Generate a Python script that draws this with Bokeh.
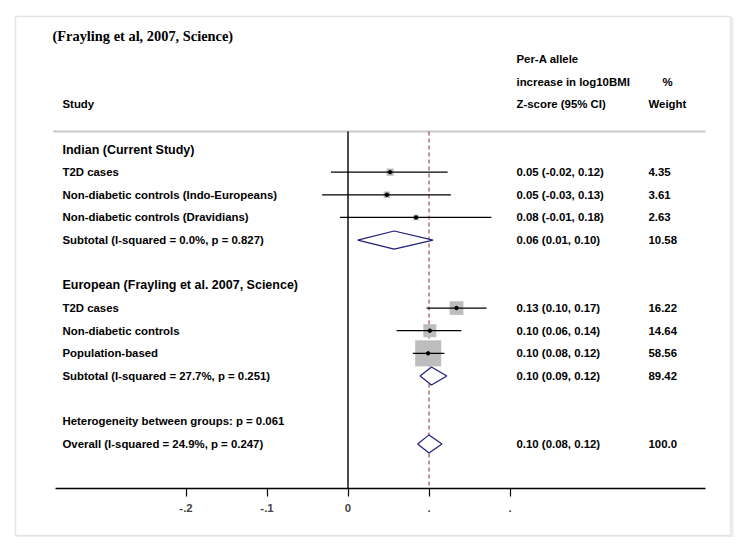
from bokeh.plotting import figure
from bokeh.models import Range1d, LinearAxis, FixedTicker
from bokeh.core.properties import value
from bokeh.embed import file_html
from bokeh.resources import INLINE
import numpy as np

# ---------------- data ----------------
title_text = "(Frayling et al, 2007, Science)"
group_labels = ["Indian (Current Study)", "European (Frayling et al. 2007, Science)"]

study_labels = ["T2D cases", "Non-diabetic controls (Indo-Europeans)",
                "Non-diabetic controls (Dravidians)",
                "T2D cases", "Non-diabetic controls", "Population-based"]
study_group = [0, 0, 0, 1, 1, 1]
est = [0.052, 0.048, 0.084, 0.134, 0.101, 0.099]
lo = [-0.021, -0.032, -0.010, 0.097, 0.060, 0.080]
hi = [0.123, 0.127, 0.177, 0.171, 0.140, 0.119]
est_text = ["0.05 (-0.02, 0.12)", "0.05 (-0.03, 0.13)", "0.08 (-0.01, 0.18)",
            "0.13 (0.10, 0.17)", "0.10 (0.06, 0.14)", "0.10 (0.08, 0.12)"]
weights = [4.35, 3.61, 2.63, 16.22, 14.64, 58.56]
weight_text = ["4.35", "3.61", "2.63", "16.22", "14.64", "58.56"]

sub_labels = ["Subtotal (I-squared = 0.0%, p = 0.827)",
              "Subtotal (I-squared = 27.7%, p = 0.251)"]
sub_est = [0.057, 0.103]
sub_lo = [0.012, 0.089]
sub_hi = [0.105, 0.122]
sub_text = ["0.06 (0.01, 0.10)", "0.10 (0.09, 0.12)"]
sub_weight_text = ["10.58", "89.42"]

het_label = "Heterogeneity between groups: p = 0.061"
overall_label = "Overall (I-squared = 24.9%, p = 0.247)"
overall_est, overall_lo, overall_hi = 0.100, 0.086, 0.116
overall_text = "0.10 (0.08, 0.12)"
overall_weight_text = "100.0"

header_study = "Study"
header_est = ["Per-A allele", "increase in log10BMI", "Z-score (95% CI)"]
header_weight = ["%", "Weight"]

x_ticks = [-0.2, -0.1, 0.0, 0.1, 0.2]
x_tick_labels = ["-.2", "-.1", "0", ".", "."]

# ---------------- layout helpers ----------------
W, H = 735, 537
X_ZERO, X_SCALE = 347.5, 810.0      # canvas px of x=0, px per unit
Y_ROW0, ROW_H = 149.0, 22.65        # canvas px of row 0, px per row


def cx(px):
    return (px - X_ZERO) / X_SCALE


def ry(py):
    return (py - Y_ROW0) / ROW_H


p = figure(width=W, height=H, output_backend="svg", toolbar_location=None,
           x_range=Range1d(cx(0), cx(W)), y_range=Range1d(ry(H), ry(0)),
           x_axis_type=None, y_axis_type=None, min_border=0)
p.outline_line_color = None
p.grid.visible = False
p.background_fill_color = "white"
p.border_fill_color = "white"

FONT = value("Liberation Sans")
FS = "11.4px"
LX, EX, WX = 62, 516, 648

# frame box
p.quad(left=cx(15), right=cx(730), top=ry(16), bottom=ry(535),
       fill_color=None, line_color="#e4e4e4", line_width=1.5)
p.segment(x0=[cx(731.5)], y0=[ry(17)], x1=[cx(731.5)], y1=[ry(537)],
          line_color="#ececec", line_width=3)
p.segment(x0=[cx(16)], y0=[ry(536.5)], x1=[cx(732)], y1=[ry(536.5)],
          line_color="#ececec", line_width=2)

# top separator
p.segment(x0=[cx(53)], y0=[ry(131)], x1=[cx(705)], y1=[ry(131)],
          line_color="#c8c8c8", line_width=2)

# reference lines
p.segment(x0=[0], y0=[ry(131)], x1=[0], y1=[ry(488)], line_color="black", line_width=1.4)
p.segment(x0=[overall_est], y0=[ry(131)], x1=[overall_est], y1=[ry(488)],
          line_color="#8b2a2a", line_width=1, line_dash="4 3")

# rows
group_start = [0, 6]
rows = []
counter = {0: 0, 1: 0}
for g in study_group:
    counter[g] += 1
    rows.append(group_start[g] + counter[g])
sub_rows = [group_start[0] + 4, group_start[1] + 4]
het_row, overall_row = 12, 13

# squares
p.scatter(x=est, y=rows, marker="square", size=[3.4 * np.sqrt(w) for w in weights],
          fill_color="#bdbdbd", line_color=None)
# CIs
p.segment(x0=lo, y0=rows, x1=hi, y1=rows, line_color="black", line_width=1.2)
p.scatter(x=est, y=rows, marker="circle", size=3.5, fill_color="black", line_color="black")

# diamonds
DH = 0.4
xs = [[l, e, h, e] for l, e, h in zip(sub_lo + [overall_lo], sub_est + [overall_est],
                                      sub_hi + [overall_hi])]
ys = [[r, r - DH, r, r + DH] for r in sub_rows + [overall_row]]
p.patches(xs=xs, ys=ys, fill_color="white", line_color="#1f1f7a", line_width=1.2)


# texts
def txt(x, y, t, size=FS, font=FONT, align="left"):
    p.text(x=x, y=y, text=t, text_font=font, text_font_size=size,
           text_font_style="bold", text_baseline="middle", text_align=align,
           text_color="black")


txt([cx(52)], [-5], [title_text], size="14.4px", font=value("Liberation Serif"))
txt([cx(LX)], [-2], [header_study])
txt([cx(EX)] * 3, [-4, -3, -2], header_est)
txt([cx(667)], [-3], [header_weight[0]], align="center")
txt([cx(WX)], [-2], [header_weight[1]])

txt([cx(LX)] * 2, group_start, group_labels, size="12.5px")
txt([cx(LX)] * len(rows), rows, study_labels)
txt([cx(EX)] * len(rows), rows, est_text)
txt([cx(WX)] * len(rows), rows, weight_text)
txt([cx(LX)] * 2, sub_rows, sub_labels)
txt([cx(EX)] * 2, sub_rows, sub_text)
txt([cx(WX)] * 2, sub_rows, sub_weight_text)
txt([cx(LX)] * 2, [het_row, overall_row], [het_label, overall_label])
txt([cx(EX)], [overall_row], [overall_text])
txt([cx(WX)], [overall_row], [overall_weight_text])

# axis
ax = LinearAxis(fixed_location=ry(488), bounds=(cx(55), cx(705)),
                ticker=FixedTicker(ticks=x_ticks),
                major_label_overrides={t: l for t, l in zip(x_ticks, x_tick_labels)})
ax.axis_line_color = "black"
ax.axis_line_width = 1.5
ax.major_tick_in = 0
ax.major_tick_out = 8
ax.major_tick_line_width = 1.2
ax.minor_tick_line_color = None
ax.major_label_text_font = "Liberation Sans"
ax.major_label_text_font_style = "bold"
ax.major_label_text_font_size = FS
ax.major_label_standoff = 7
p.add_layout(ax, "below")

open("out.html", "w").write(file_html(p, INLINE))
